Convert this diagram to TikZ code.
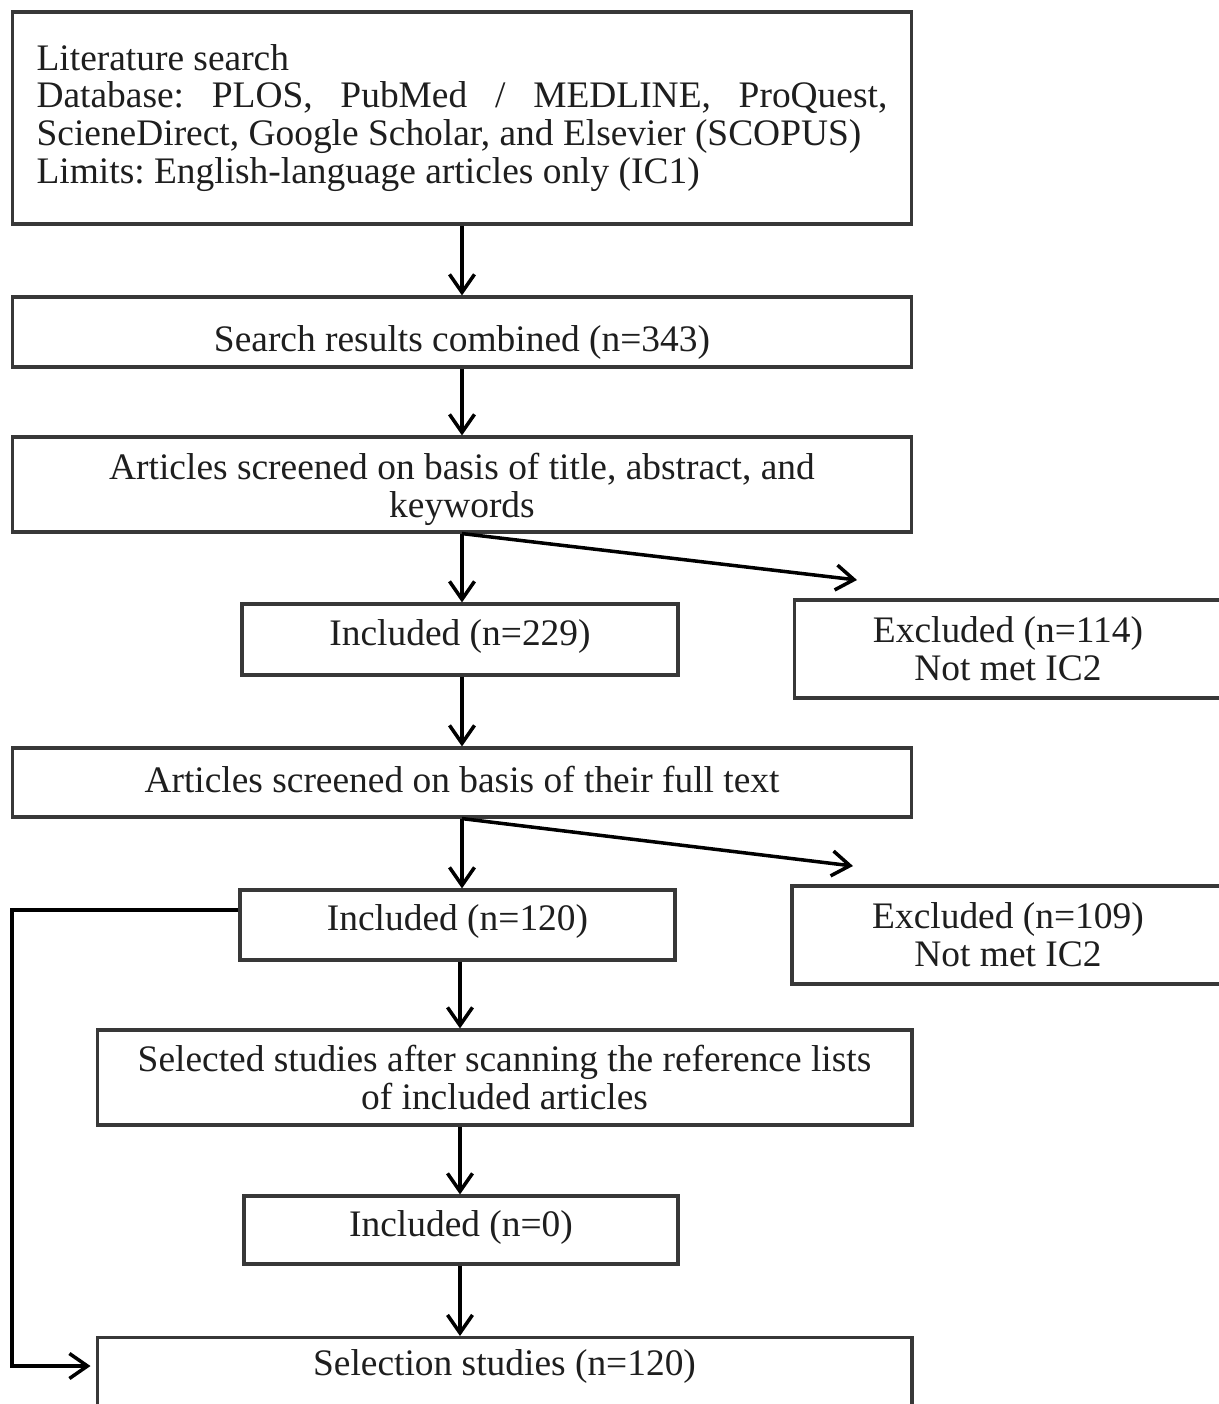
\documentclass[tikz,border=0pt]{standalone}
\usepackage{fontspec}
\setmainfont{Liberation Serif}
\usetikzlibrary{arrows.meta}
\definecolor{boxgray}{HTML}{383838}
\definecolor{txt}{HTML}{1E1E1E}
\begin{document}
\frenchspacing
\begin{tikzpicture}[x=0.02cm,y=-0.02cm,
  every node/.style={font=\fontsize{21.3}{21.6}\selectfont, text=txt, align=center},
  fbox/.style={draw=boxgray, line width=1.8pt, rectangle, inner sep=0pt, align=center},
  conn/.style={line width=2pt, draw=black, -{Straight Barb[length=0.36cm,width=0.5cm,line width=2pt]}}]
\useasboundingbox (0,0) rectangle (1219,1404);
\clip (0,0) rectangle (1219,1404);
\fill[white] (0,0) rectangle (1219,1404);

\node[fbox, minimum width=18cm, minimum height=4.24cm, text width=17.02cm, align=justify] (b1) at (462,118)
  {Literature search\\
   Database: PLOS, PubMed / MEDLINE, ProQuest,\linebreak ScieneDirect, Google Scholar, and Elsevier (SCOPUS)\\
   Limits: English-language articles only (IC1)};
\node[fbox, minimum width=18cm, minimum height=1.4cm] (b2) at (462,332) {};
\node (b2t) at (462,342) {Search results combined (n=343)};
\node[fbox, minimum width=18cm, minimum height=1.9cm] (b3) at (462,484.5) {};
\node (b3t) at (462,489) {Articles screened on basis of title, abstract, and\\keywords};
\node[fbox, minimum width=8.72cm, minimum height=1.42cm] (b4) at (460,639.5) {};
\node (b4t) at (460,636) {Included (n=229)};
\node[fbox, minimum width=8.54cm, minimum height=1.96cm] (e1) at (1008,649) {Excluded (n=114)\\Not met IC2};
\node[fbox, minimum width=18cm, minimum height=1.38cm] (b5) at (462,782.5) {};
\node (b5t) at (462,779) {Articles screened on basis of their full text};
\node[fbox, minimum width=8.7cm, minimum height=1.4cm] (b6) at (457.5,925) {};
\node (b6t) at (457.5,921) {Included (n=120)};
\node[fbox, minimum width=8.64cm, minimum height=1.96cm] (e2) at (1008,935) {Excluded (n=109)\\Not met IC2};
\node[fbox, minimum width=16.3cm, minimum height=1.9cm] (b7) at (504.5,1077.5) {Selected studies after scanning the reference lists\\of included articles};
\node[fbox, minimum width=8.68cm, minimum height=1.36cm] (b8) at (461,1230) {};
\node (b8t) at (461,1227) {Included (n=0)};
\node[fbox, minimum width=16.3cm, minimum height=1.6cm, anchor=north] (b9) at (504.5,1336) {};
\node (b9t) at (504.5,1366) {Selection studies (n=120)};

\coordinate (d1) at (857,580);
\coordinate (d2) at (853,866);
\coordinate (lp) at (12,910);

\draw[conn] (b1.south) -- (b2.north);
\draw[conn] (b2.south) -- (b3.north);
\draw[conn] (b3.south) -- (b3.south |- b4.north);
\draw[conn] (b3.south) -- (d1);
\draw[conn] (b4.south -| b3.south) -- (b5.north);
\draw[conn] (b5.south) -- (b5.south |- b6.north);
\draw[conn] (b5.south) -- (d2);
\draw[conn] ([xshift=0.05cm]b6.south) -- ([xshift=0.05cm]b6.south |- b7.north);
\draw[conn] ([xshift=0.05cm]b6.south |- b7.south) -- ([xshift=0.05cm]b6.south |- b8.north);
\draw[conn] ([xshift=0.05cm]b6.south |- b8.south) -- ([xshift=0.05cm]b6.south |- b9.north);
\draw[conn] (b6.west |- lp) -- (lp) |- ([xshift=-0.1cm]b9.west |- b9t);
\end{tikzpicture}
\end{document}
